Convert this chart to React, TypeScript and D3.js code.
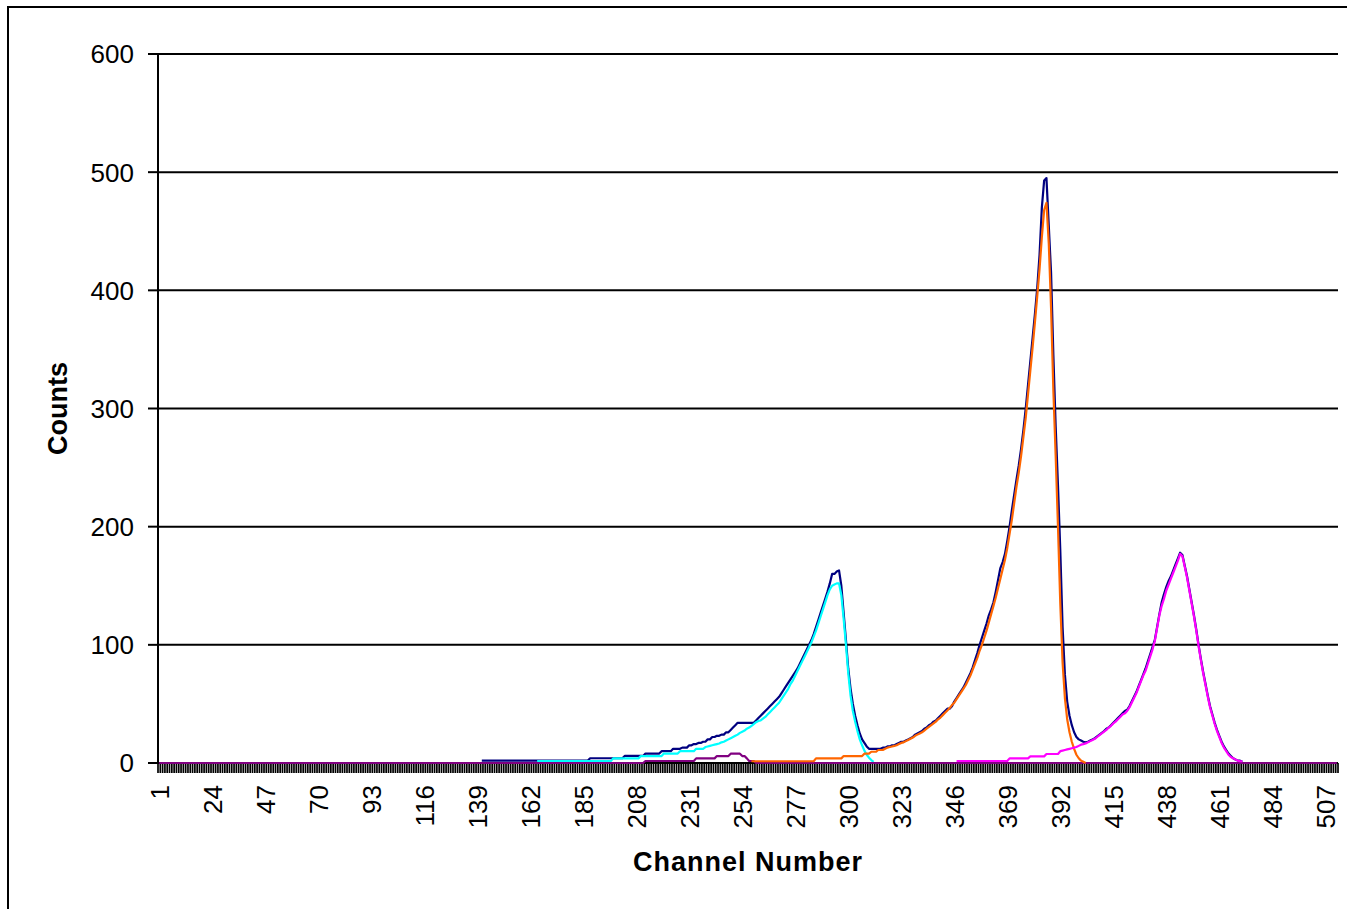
import React from "react"
import * as d3 from "d3"

// channel categories and tick labels
const channels: number[] = d3.range(1, 513)
const xTickLabels = [1, 24, 47, 70, 93, 116, 139, 162, 185, 208, 231, 254, 277, 300, 323, 346, 369, 392, 415, 438, 461, 484, 507]
const yTicks = [0, 100, 200, 300, 400, 500, 600]

// measured spectrum (navy), channels 141..471
const navyStart = 141
const navyValues = [
  2, 2, 2, 2, 2, 2, 2, 2, 2, 2,
  2, 2, 2, 2, 2, 2, 2, 2, 2, 2,
  2, 2, 2, 2, 2, 2, 2, 2, 2, 2,
  2, 2, 2, 2, 2, 2, 2, 2, 2, 2,
  2, 2, 2, 2, 2, 2, 2, 4, 4, 4,
  4, 4, 4, 4, 4, 4, 4, 4, 4, 4,
  4, 4, 6, 6, 6, 6, 6, 6, 6, 6,
  6, 8, 8, 8, 8, 8, 8, 8, 10, 10,
  10, 10, 10, 12, 12, 12, 12, 13, 13, 13,
  15, 15, 16, 16, 17, 17, 18, 18, 20, 20,
  22, 22, 23, 23, 24, 24, 26, 26, 28, 30,
  32, 34, 34, 34, 34, 34, 34, 34, 34, 36,
  38, 40, 42, 44, 46, 48, 50, 52, 54, 56,
  59, 62, 65, 68, 71, 74, 77, 80, 84, 88,
  92, 96, 100, 104, 109, 115, 121, 127, 133, 139,
  145, 152, 160, 160, 162, 163, 150, 127, 104, 80,
  63, 50, 40, 32, 25, 20, 17, 14, 12, 12,
  12, 12, 12, 12, 13, 13, 14, 14, 15, 15,
  16, 17, 18, 18, 19, 20, 21, 22, 24, 25,
  26, 27, 29, 30, 32, 33, 35, 36, 38, 40,
  42, 44, 46, 46, 48, 52, 55, 58, 61, 64,
  68, 72, 76, 81, 87, 93, 100, 106, 112, 118,
  125, 130, 136, 145, 155, 165, 170, 177, 188, 200,
  214, 227, 240, 252, 266, 282, 300, 320, 340, 360,
  380, 402, 430, 470, 493, 495, 455, 415, 345, 285,
  235, 180, 115, 75, 52, 40, 32, 26, 22, 20,
  19, 18, 17.5, 18, 19, 20, 21, 22.5, 24, 25.5,
  27, 29, 30, 32, 34, 36, 38, 40, 42, 44,
  45, 48, 52, 56, 60, 65, 70, 75, 80, 86,
  92, 98, 104, 115, 126, 136, 143, 149, 154, 158,
  163, 168, 173, 178, 176, 167, 158, 147, 136, 125,
  113, 100, 88, 77, 67, 57, 48, 41, 34, 28,
  23, 18, 14, 11, 8, 6, 4, 3, 2, 2,
  1,
]

// first peak fit (cyan), channels 165..311
const cyanStart = 165
const cyanValues = [
  1.7, 1.7, 1.7, 1.7, 1.7, 1.7, 1.7, 1.7, 1.7, 1.7,
  1.7, 1.7, 1.7, 1.7, 1.7, 1.7, 1.7, 1.7, 1.7, 1.7,
  1.7, 1.7, 1.7, 1.7, 1.7, 1.7, 1.7, 1.7, 1.7, 1.7,
  1.7, 1.7, 1.7, 3.9, 3.9, 3.9, 3.9, 3.9, 3.9, 3.9,
  3.9, 3.9, 3.9, 3.9, 3.9, 5.9, 5.9, 5.9, 5.9, 5.9,
  5.9, 5.9, 5.9, 5.9, 5.9, 8, 8, 8, 8, 8,
  8, 8, 10, 10, 10, 10, 10, 10, 10, 12,
  12, 12, 12, 13.5, 14, 14.5, 15, 15.5, 16, 16.5,
  17.5, 18, 19, 20, 21, 22, 23, 24, 25.5, 26.5,
  27.5, 29, 30, 31.5, 33, 34.5, 35.5, 36, 37.5, 39,
  41, 43, 45, 47, 49, 51, 54, 57, 60, 63,
  67, 70, 74, 78, 82, 86, 90, 94, 98, 102,
  107, 112, 118, 124, 130, 136, 142, 147, 150, 151,
  152, 152, 142, 122, 100, 76, 57, 44, 35, 27,
  20, 15, 10.5, 7, 4.5, 2.5, 1,
]

// small bump (purple); zero over all other channels
const purpleStart = 212
const purpleValues = [
  1.7, 1.7, 1.7, 1.7, 1.7, 1.7, 1.7, 1.7, 1.7, 1.7,
  1.7, 1.7, 1.7, 1.7, 1.7, 1.7, 1.7, 1.7, 1.7, 1.7,
  1.7, 1.7, 3.9, 3.9, 3.9, 3.9, 3.9, 3.9, 3.9, 3.9,
  3.9, 5.9, 5.9, 5.9, 5.9, 5.9, 5.9, 7.9, 7.9, 7.9,
  7.9, 7.9, 5.9, 5.9, 3.9, 1.7, 1.7, 1.7,
]

// second peak fit (orange), channels 258..403
const orangeStart = 258
const orangeValues = [
  1.5, 1.5, 1.5, 1.5, 1.5, 1.5, 1.5, 1.5, 1.5, 1.5,
  1.5, 1.5, 1.5, 1.5, 1.5, 1.5, 1.5, 1.5, 1.5, 1.5,
  1.5, 1.5, 1.5, 1.5, 1.5, 1.5, 1.5, 1.5, 3.9, 3.9,
  3.9, 3.9, 3.9, 3.9, 3.9, 3.9, 3.9, 3.9, 3.9, 3.9,
  5.9, 5.9, 5.9, 5.9, 5.9, 5.9, 5.9, 5.9, 5.9, 7.9,
  7.9, 7.9, 9.5, 9.5, 9.5, 11, 11, 11, 12, 13,
  13.5, 14, 14.5, 15, 16, 17, 17.5, 18.5, 19.5, 20.5,
  21.5, 23, 24, 25, 26, 27.5, 29, 30.5, 32, 33.5,
  35, 37, 38.5, 40.5, 42.5, 44.5, 46.5, 49, 51, 54,
  57, 60, 63, 66, 70, 74, 79, 84, 89, 95,
  100, 106, 112, 119, 126, 133, 140, 148, 156, 164,
  172, 182, 194, 206, 220, 234, 246, 260, 276, 292,
  312, 332, 352, 373, 395, 418, 445, 468, 474, 440,
  385, 315, 260, 200, 135, 85, 55, 37, 26, 18,
  12, 7, 4, 2, 1, 0,
]

// third peak fit (magenta), channels 347..471
const magentaStart = 347
const magentaValues = [
  1.7, 1.7, 1.7, 1.7, 1.7, 1.7, 1.7, 1.7, 1.7, 1.7,
  1.7, 1.7, 1.7, 1.7, 1.7, 1.7, 1.7, 1.7, 1.7, 1.7,
  1.7, 1.7, 1.7, 3.9, 3.9, 3.9, 3.9, 3.9, 3.9, 3.9,
  3.9, 3.9, 5.6, 5.6, 5.6, 5.6, 5.6, 5.6, 5.6, 7.6,
  7.6, 7.6, 7.6, 7.6, 7.6, 10, 10.5, 11, 11.5, 12,
  12.5, 13, 13.5, 14.5, 15.5, 16, 16.6, 17.5, 18.5, 19.5,
  20.5, 22, 23.5, 25, 26.5, 28, 30, 31.5, 33.5, 35,
  37, 39, 41, 42, 44, 47, 51, 55, 59, 64,
  69, 74, 78, 84, 90, 96, 103, 114, 125, 133,
  139, 146, 151, 156, 161, 166, 171, 177, 175, 166,
  157, 146, 135, 124, 112, 99, 87, 76, 66, 56,
  47, 40, 33, 27, 22, 17, 13, 10, 7, 5,
  4, 3, 2, 1.5, 1.5,
]

type Val = number | null

function place(start: number, values: number[], base: Val): Val[] {
  return channels.map((c) => {
    const i = c - start
    return i >= 0 && i < values.length ? values[i] : base
  })
}

const series = [
  { name: "navy", color: "#000080", data: place(navyStart, navyValues, null) },
  { name: "cyan", color: "#00FFFF", data: place(cyanStart, cyanValues, null) },
  { name: "purple", color: "#800080", data: place(purpleStart, purpleValues, 0) },
  { name: "orange", color: "#FF6600", data: place(orangeStart, orangeValues, null) },
  { name: "magenta", color: "#FF00FF", data: place(magentaStart, magentaValues, null) },
]

export default function App() {
  const width = 1347
  const height = 909
  const left = 158
  const right = 1338
  const top = 54
  const bottom = 763
  const font = "'Liberation Sans', Arial, sans-serif"

  const x = d3.scaleBand<number>().domain(channels).range([left, right]).padding(0)
  const y = d3.scaleLinear().domain([0, 600]).range([bottom, top])
  const cx = (c: number) => (x(c) as number) + x.bandwidth() / 2

  const line = d3.line<Val>()
    .defined((d) => d != null)
    .x((d, i) => cx(channels[i]))
    .y((d) => y(d as number))

  // tick marks sit between categories
  const boundaries = d3.range(0, channels.length + 1).map((i) => left + i * x.bandwidth())

  return (
    <svg width={width} height={height} style={{ position: "absolute", left: 0, top: 0, background: "#fff" }}>
      <rect x={8} y={7} width={1400} height={1000} fill="#fff" stroke="#000" strokeWidth={2} />

      {yTicks.map((t) => (
        <g key={t}>
          {t > 0 && <line x1={left} x2={right} y1={y(t)} y2={y(t)} stroke="#000" strokeWidth={2} />}
          <line x1={left - 10} x2={left} y1={y(t)} y2={y(t)} stroke="#000" strokeWidth={2} />
          <text x={134} y={y(t)} dy="0.36em" textAnchor="end" fontFamily={font} fontSize={26}>{t}</text>
        </g>
      ))}
      <line x1={left} x2={left} y1={top} y2={bottom} stroke="#000" strokeWidth={2} />
      <line x1={left} x2={right} y1={bottom} y2={bottom} stroke="#000" strokeWidth={2} />

      <g>
        {boundaries.map((bx, i) => (
          <line key={i} x1={bx} x2={bx} y1={bottom} y2={bottom + 10} stroke="#000" strokeWidth={1.7} />
        ))}
      </g>

      {xTickLabels.map((c) => (
        <text key={c} transform={`translate(${cx(c)},785) rotate(-90)`} dy="0.36em" textAnchor="end" fontFamily={font} fontSize={26}>{c}</text>
      ))}

      {series.map((s) => (
        <path key={s.name} d={line(s.data) || ""} fill="none" stroke={s.color} strokeWidth={2.2} strokeLinejoin="round" />
      ))}

      <text transform={`translate(57,${(top + bottom) / 2}) rotate(-90)`} dy="0.36em" textAnchor="middle" fontFamily={font} fontSize={27} fontWeight="bold">Counts</text>
      <text x={(left + right) / 2} y={871} textAnchor="middle" fontFamily={font} fontSize={27} fontWeight="bold" letterSpacing={1}>Channel Number</text>
    </svg>
  )
}
